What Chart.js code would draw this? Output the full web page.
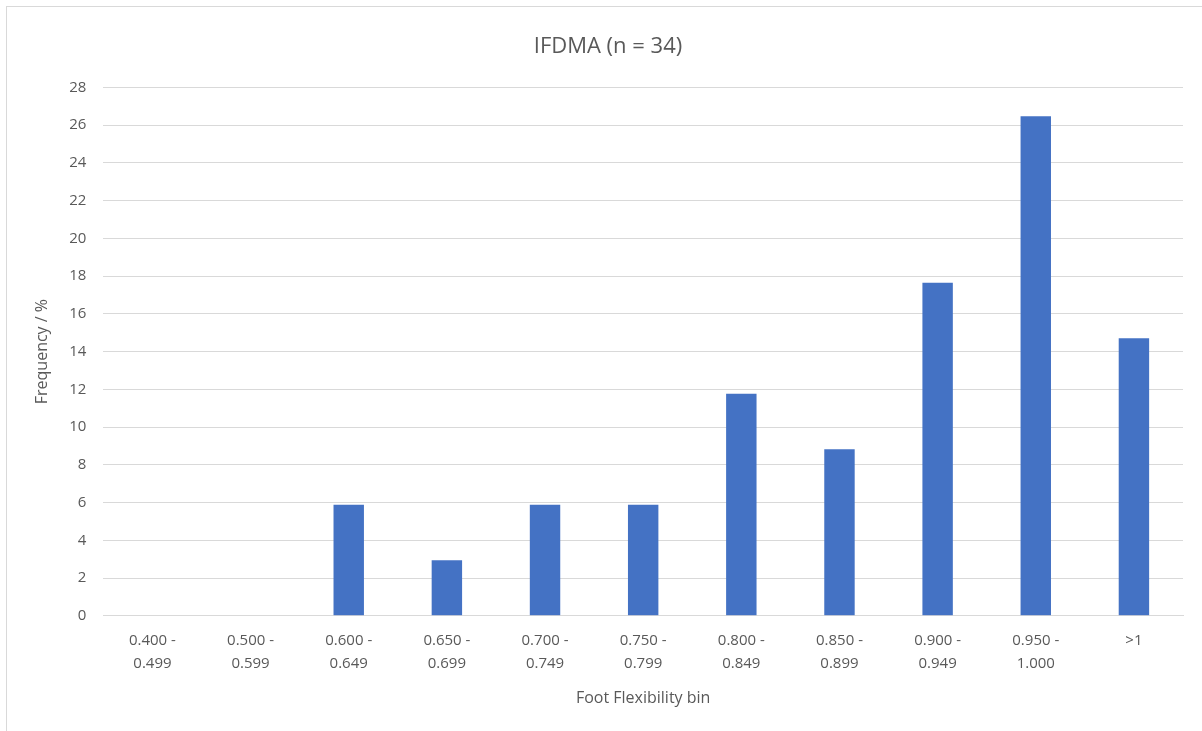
<!DOCTYPE html>
<html lang="en">
<head>
    <meta charset="UTF-8">
    <title>IFDMA (n = 34)</title>
    <script src="https://cdn.jsdelivr.net/npm/chart.js"></script>
    <style>
        html, body {
            margin: 0;
            padding: 0;
            background: #fff;
        }
        #chart-box {
            position: absolute;
            left: 6px;
            top: 6px;
            width: 1196px;
            height: 725px;
            border-left: 1px solid #d9d9d9;
            border-top: 1px solid #d9d9d9;
            box-sizing: border-box;
        }
    </style>
</head>
<body>
    <div id="chart-box">
        <canvas id="freq-chart"></canvas>
    </div>
    <script>
        // Foot flexibility bins (two-line labels) and frequency in percent
        const bins = [
            ['0.400 -', '0.499'], ['0.500 -', '0.599'], ['0.600 -', '0.649'],
            ['0.650 -', '0.699'], ['0.700 -', '0.749'], ['0.750 -', '0.799'],
            ['0.800 -', '0.849'], ['0.850 -', '0.899'], ['0.900 -', '0.949'],
            ['0.950 -', '1.000'], ['>1']
        ];
        const frequency = [0, 0, 5.88, 2.94, 5.88, 5.88, 11.76, 8.82, 17.65, 26.47, 14.71];
        const yTicks = [0, 2, 4, 6, 8, 10, 12, 14, 16, 18, 20, 22, 24, 26, 28];

        const textColor = '#595959';
        const gridColor = '#d9d9d9';
        const fontFamily = '"Open Sans", "Liberation Sans", sans-serif';

        new Chart(document.getElementById('freq-chart').getContext('2d'), {
            type: 'bar',
            data: {
                labels: bins,
                datasets: [{
                    label: 'Frequency',
                    data: frequency,
                    backgroundColor: '#4472c4',
                    borderWidth: 0,
                    categoryPercentage: 1,
                    barPercentage: 0.31
                }]
            },
            options: {
                responsive: true,
                maintainAspectRatio: false,
                animation: false,
                layout: {
                    padding: { left: 26, right: 19, top: 21, bottom: 19 }
                },
                plugins: {
                    legend: { display: false },
                    tooltip: { enabled: false },
                    title: {
                        display: true,
                        text: 'IFDMA (n = 34)',
                        color: textColor,
                        font: { family: fontFamily, size: 22, weight: 'normal' },
                        padding: { top: 6, bottom: 27 }
                    }
                },
                scales: {
                    x: {
                        grid: { display: false },
                        border: { display: true, color: gridColor, width: 1 },
                        ticks: {
                            color: textColor,
                            font: { family: fontFamily, size: 15, lineHeight: 1.5 },
                            maxRotation: 0,
                            autoSkip: false,
                            padding: 6
                        },
                        title: {
                            display: true,
                            text: 'Foot Flexibility bin',
                            color: textColor,
                            font: { family: fontFamily, size: 16 },
                            padding: { top: 8 }
                        }
                    },
                    y: {
                        min: 0,
                        max: 28,
                        afterBuildTicks: (axis) => {
                            axis.ticks = yTicks.map(v => ({ value: v }));
                        },
                        grid: {
                            color: gridColor,
                            drawTicks: false,
                            lineWidth: 1
                        },
                        border: { display: false },
                        ticks: {
                            color: textColor,
                            font: { family: fontFamily, size: 15 },
                            padding: 17
                        },
                        title: {
                            display: true,
                            text: 'Frequency / %',
                            color: textColor,
                            font: { family: fontFamily, size: 16 },
                            padding: 0
                        }
                    }
                }
            }
        });
    </script>
</body>
</html>
